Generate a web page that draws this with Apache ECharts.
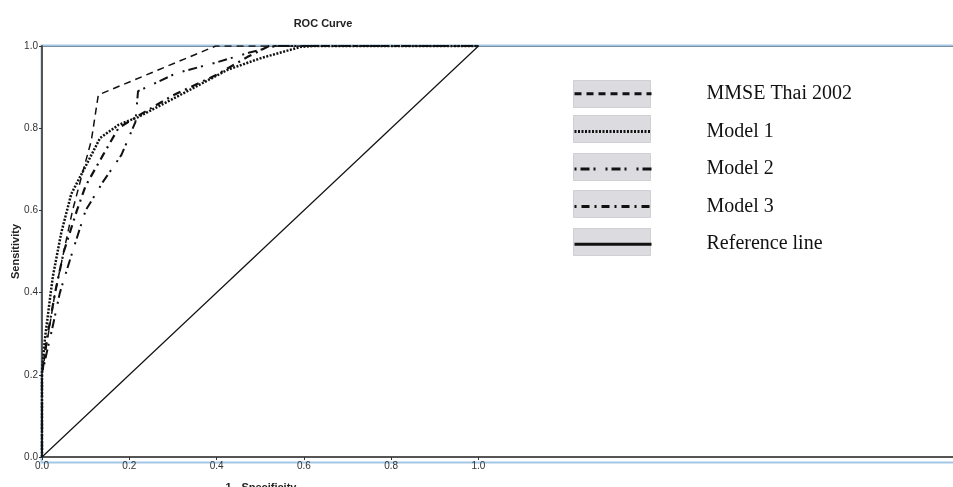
<!DOCTYPE html>
<html><head><meta charset="utf-8">
<script src="https://cdn.jsdelivr.net/npm/echarts@6/dist/echarts.min.js"></script>
<style>html,body{margin:0;padding:0;background:#fff}#c{width:953px;height:487px}</style>
</head><body><div id="c"></div>
<script>
const seriesNames = ['MMSE Thai 2002', 'Model 1', 'Model 2', 'Model 3', 'Reference line'];
const mmse = [[0,0],[0,0.2],[0.01,0.27],[0.03,0.4],[0.05,0.5],[0.07,0.6],[0.09,0.68],[0.113,0.77],[0.129,0.881],[0.398,1],[1,1]];
const model1 = [[0,0],[0,0.21],[0.007,0.29],[0.02,0.4],[0.025,0.44],[0.044,0.545],[0.067,0.64],[0.106,0.72],[0.133,0.776],[0.175,0.808],[0.22,0.827],[0.308,0.876],[0.425,0.942],[0.5,0.97],[0.593,0.998],[0.62,1],[1,1]];
const model2 = [[0,0],[0,0.2],[0.01,0.25],[0.025,0.32],[0.041,0.4],[0.07,0.5],[0.1,0.6],[0.14,0.67],[0.182,0.735],[0.214,0.815],[0.22,0.89],[0.308,0.934],[0.4,0.96],[0.478,0.985],[0.536,1],[1,1]];
const model3 = [[0,0],[0,0.2],[0.01,0.28],[0.03,0.4],[0.05,0.5],[0.08,0.6],[0.1,0.66],[0.14,0.735],[0.175,0.8],[0.22,0.83],[0.3,0.88],[0.4,0.93],[0.47,0.973],[0.52,1],[1,1]];
const refLine = [[0,0],[1,1]];
const tickValues = [0, 0.2, 0.4, 0.6, 0.8, 1.0];

const chart = echarts.init(document.getElementById('c'));
const boxes = [80, 115, 153, 190, 228].map(y => ({
  type: 'rect', left: 573, top: y, z: 1,
  shape: {width: 77, height: 27},
  style: {fill: '#dcdbe0', stroke: '#cfcfd4', lineWidth: 1}
}));
chart.setOption({
  animation: false,
  title: [
    {text: 'ROC Curve', left: 318, top: 13, textAlign: 'center',
     textStyle: {fontFamily: 'Liberation Sans, Arial', fontSize: 11, fontWeight: 'bold', color: '#222'}},
    {text: '1 - Specificity', left: 256, top: 477, textAlign: 'center',
     textStyle: {fontFamily: 'Liberation Sans, Arial', fontSize: 11, fontWeight: 'bold', color: '#222'}}
  ],
  grid: {left: 42, top: 46, right: -3, bottom: 30, show: true, borderColor: '#555', borderWidth: 2,
         backgroundColor: 'transparent', containLabel: false, outerBoundsMode: 'none'},
  graphic: boxes.concat([{
    type: 'rect', left: 39, top: 43, z: 0, silent: true,
    shape: {width: 1000, height: 417},
    style: {fill: 'none', stroke: '#a3c8e6', lineWidth: 2}
  }]),
  legend: {
    orient: 'vertical', left: 573, top: 83, padding: 0, itemWidth: 77, itemHeight: 27, itemGap: 16,
    data: seriesNames,
    textStyle: {fontFamily: 'Liberation Serif, Times New Roman', fontSize: 20, color: '#111', padding: [0, 0, 0, 50]},
    itemStyle: {opacity: 0},
    lineStyle: {width: 3}
  },
  xAxis: {
    type: 'value', min: 0, max: 2.094,
    axisLine: {show: true, lineStyle: {color: '#555', width: 2}},
    axisTick: {show: true, customValues: tickValues, length: 3, lineStyle: {color: '#333'}},
    axisLabel: {customValues: tickValues, formatter: v => v.toFixed(1), fontSize: 10, color: '#333', fontFamily: 'Liberation Sans, Arial', margin: 4},
    splitLine: {show: false}
  },
  yAxis: {
    type: 'value', min: 0, max: 1, interval: 0.2,
    name: 'Sensitivity', nameLocation: 'middle', nameGap: 21, nameMoveOverlap: false,
    nameTextStyle: {fontFamily: 'Liberation Sans, Arial', fontSize: 11, fontWeight: 'bold', color: '#222'},
    axisLine: {show: true, lineStyle: {color: '#555', width: 2}},
    axisTick: {show: true, length: 3, lineStyle: {color: '#333'}},
    axisLabel: {formatter: v => v.toFixed(1), fontSize: 10, color: '#333', fontFamily: 'Liberation Sans, Arial', margin: 4},
    splitLine: {show: false}
  },
  series: [
    {name: seriesNames[0], type: 'line', data: mmse, showSymbol: false, symbol: 'none', z: 5,
     lineStyle: {color: '#111', width: 1.5, type: [7, 5]}},
    {name: seriesNames[1], type: 'line', data: model1, showSymbol: false, symbol: 'none', z: 5,
     lineStyle: {color: '#111', width: 2.5, type: [2, 1.5]}},
    {name: seriesNames[2], type: 'line', data: model2, showSymbol: false, symbol: 'none', z: 5,
     lineStyle: {color: '#111', width: 2, type: [2, 4, 9, 4, 2, 10]}},
    {name: seriesNames[3], type: 'line', data: model3, showSymbol: false, symbol: 'none', z: 5,
     lineStyle: {color: '#111', width: 2.2, type: [2, 5, 8, 5]}},
    {name: seriesNames[4], type: 'line', data: refLine, showSymbol: false, symbol: 'none', z: 5,
     lineStyle: {color: '#111', width: 1.2, type: 'solid'}}
  ]
});
</script></body></html>
